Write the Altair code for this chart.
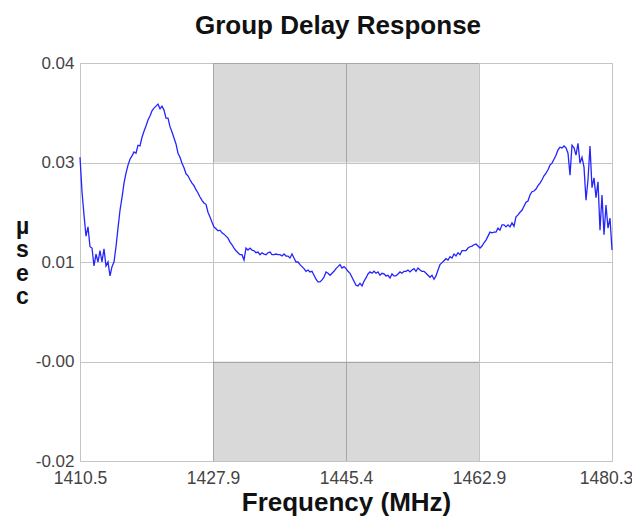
import altair as alt
import pandas as pd

# Sweep definition (evenly spaced measurement points)
freq_start = 1410.5
freq_stop = 1480.3

# Group delay (usec), one value per sweep point
delay_usec = [
    # 1410.5 .. ~1424.4
    0.0258, 0.0206, 0.0171, 0.0139, 0.0153, 0.0123, 0.0121, 0.0094, 0.0112, 0.0100,
    0.0117, 0.0100, 0.0120, 0.0094, 0.0100, 0.0079, 0.0093, 0.0100, 0.0123, 0.0151,
    0.0178, 0.0197, 0.0219, 0.0234, 0.0246, 0.0255, 0.0260, 0.0266, 0.0264, 0.0276,
    0.0275, 0.0288, 0.0297, 0.0305, 0.0314, 0.0320, 0.0328, 0.0332, 0.0335, 0.0338,
    0.0331, 0.0335, 0.0329, 0.0317, 0.0317, 0.0304, 0.0296, 0.0287, 0.0278, 0.0264,
    0.0258, 0.0249, 0.0242, 0.0233,
    # ~1424.7 .. ~1438.6
    0.0230, 0.0224, 0.0219, 0.0215, 0.0209, 0.0204, 0.0198, 0.0193, 0.0189, 0.0187,
    0.0175, 0.0168, 0.0160, 0.0153, 0.0150, 0.0147, 0.0148, 0.0144, 0.0142, 0.0139,
    0.0136, 0.0130, 0.0126, 0.0121, 0.0117, 0.0114, 0.0111, 0.0111, 0.0103, 0.0121,
    0.0118, 0.0121, 0.0118, 0.0117, 0.0114, 0.0115, 0.0111, 0.0114, 0.0112, 0.0111,
    0.0114, 0.0115, 0.0111, 0.0111, 0.0112, 0.0111, 0.0111, 0.0109, 0.0112, 0.0109,
    0.0109, 0.0106, 0.0112, 0.0106,
    # ~1438.8 .. ~1452.2
    0.0100, 0.0100, 0.0096, 0.0093, 0.0090, 0.0086, 0.0088, 0.0085, 0.0086, 0.0080,
    0.0074, 0.0070, 0.0070, 0.0073, 0.0077, 0.0085, 0.0083, 0.0080, 0.0083, 0.0086,
    0.0090, 0.0093, 0.0096, 0.0091, 0.0093, 0.0090, 0.0086, 0.0083, 0.0077, 0.0071,
    0.0065, 0.0064, 0.0068, 0.0064, 0.0071, 0.0076, 0.0082, 0.0085, 0.0083, 0.0086,
    0.0083, 0.0085, 0.0080, 0.0083, 0.0082, 0.0079, 0.0080, 0.0076, 0.0082, 0.0079,
    0.0079, 0.0082,
    # ~1452.5 .. ~1465.6
    0.0085, 0.0083, 0.0086, 0.0086, 0.0088, 0.0085, 0.0088, 0.0090, 0.0086, 0.0091,
    0.0088, 0.0086, 0.0086, 0.0083, 0.0080, 0.0077, 0.0080, 0.0074, 0.0079, 0.0088,
    0.0096, 0.0099, 0.0102, 0.0105, 0.0103, 0.0108, 0.0106, 0.0112, 0.0109, 0.0114,
    0.0111, 0.0117, 0.0117, 0.0117, 0.0121, 0.0123, 0.0124, 0.0126, 0.0127, 0.0124,
    0.0121, 0.0124, 0.0129, 0.0133, 0.0139, 0.0145, 0.0144, 0.0145, 0.0145, 0.0151,
    0.0148,
    # ~1465.9 .. 1480.3
    0.0156, 0.0156, 0.0153, 0.0156, 0.0153, 0.0159, 0.0154, 0.0168, 0.0171, 0.0175,
    0.0178, 0.0184, 0.0190, 0.0192, 0.0201, 0.0206, 0.0207, 0.0210, 0.0215, 0.0219,
    0.0224, 0.0230, 0.0234, 0.0239, 0.0246, 0.0249, 0.0255, 0.0261, 0.0269, 0.0273,
    0.0272, 0.0275, 0.0272, 0.0264, 0.0231, 0.0276, 0.0272, 0.0261, 0.0279, 0.0249,
    0.0258, 0.0243, 0.0193, 0.0224, 0.0275, 0.0212, 0.0227, 0.0197, 0.0221, 0.0148,
    0.0201, 0.0141, 0.0186, 0.0151, 0.0166, 0.0118,
]

# Axis ticks and labels
x_tick_values = [1410.5, 1427.95, 1445.4, 1462.85, 1480.3]
x_tick_labels = ["1410.5", "1427.9", "1445.4", "1462.9", "1480.3"]
y_tick_values = [-0.02, -0.005, 0.01, 0.025, 0.04]
y_tick_labels = ["-0.02", "-0.00", "0.01", "0.03", "0.04"]

# Shaded limit boxes
band_x_start = [1427.95, 1427.95]
band_x_end = [1462.85, 1462.85]
band_y_low = [0.025, -0.02]
band_y_high = [0.04, -0.005]

n = len(delay_usec)
step = (freq_stop - freq_start) / (n - 1)
df = pd.DataFrame({"freq": [freq_start + i * step for i in range(n)], "delay": delay_usec})
bands = pd.DataFrame({"x0": band_x_start, "x1": band_x_end, "y0": band_y_low, "y1": band_y_high})


def label_expr(values, labels):
    e = ""
    for v, l in zip(values, labels):
        e += f"abs(datum.value - ({v})) < 1e-6 ? '{l}' : "
    return e + "''"


FONT = "Liberation Sans"

x_axis = alt.Axis(
    values=x_tick_values, labelExpr=label_expr(x_tick_values, x_tick_labels),
    title="Frequency (MHz)", titleFontSize=26, titleFont=FONT, titleFontWeight="bold",
    titleColor="#111111", titlePadding=3,
    labelFont=FONT, labelFontSize=17.5, labelColor="#444444", labelPadding=8,
    labelFlush=False,
    labelOffset={"condition": {"test": f"datum.value > {freq_stop - 0.01}", "value": -6}, "value": 0},
    ticks=False, domain=False, grid=True, gridColor="#c4c4c4", gridWidth=1,
    labelOverlap=False,
)
y_axis = alt.Axis(
    values=y_tick_values, labelExpr=label_expr(y_tick_values, y_tick_labels),
    title=["\u00b5", "s", "e", "c"], titleAngle=0, titleFontSize=23, titleFont=FONT,
    titleFontWeight="bold", titleColor="#111111", titleAlign="center",
    titleBaseline="middle", titleX=-58, titleY=163, titleLineHeight=23.5,
    labelFont=FONT, labelFontSize=17, labelColor="#444444", labelPadding=6,
    labelFlush=False,
    ticks=False, domain=False, grid=True, gridColor="#c4c4c4", gridWidth=1,
    labelOverlap=False,
)

x_scale = alt.Scale(domain=[freq_start, freq_stop], nice=False, zero=False)
y_scale = alt.Scale(domain=[-0.02, 0.04], nice=False, zero=False)

rects = alt.Chart(bands).mark_rect(color="black", opacity=0.15).encode(
    x=alt.X("x0:Q", scale=x_scale, axis=x_axis),
    x2="x1:Q",
    y=alt.Y("y0:Q", scale=y_scale, axis=y_axis),
    y2="y1:Q",
)

line = alt.Chart(df).mark_line(color="#2424ff", strokeWidth=1.3).encode(
    x=alt.X("freq:Q", scale=x_scale, axis=x_axis),
    y=alt.Y("delay:Q", scale=y_scale, axis=y_axis),
)

chart = alt.layer(rects, line).properties(
    width=532,
    height=398,
    padding={"left": 72, "top": 55, "right": 20, "bottom": 58},
    autosize=alt.AutoSizeParams(type="none"),
    title=alt.TitleParams(
        "Group Delay Response", font=FONT, fontSize=26, fontWeight="bold",
        color="#111111", offset=15, dx=-8,
    ),
).configure_view(stroke="#333333", strokeWidth=2).configure(background="white")

chart.save("out.html", embed_options={"renderer": "svg", "actions": False})
